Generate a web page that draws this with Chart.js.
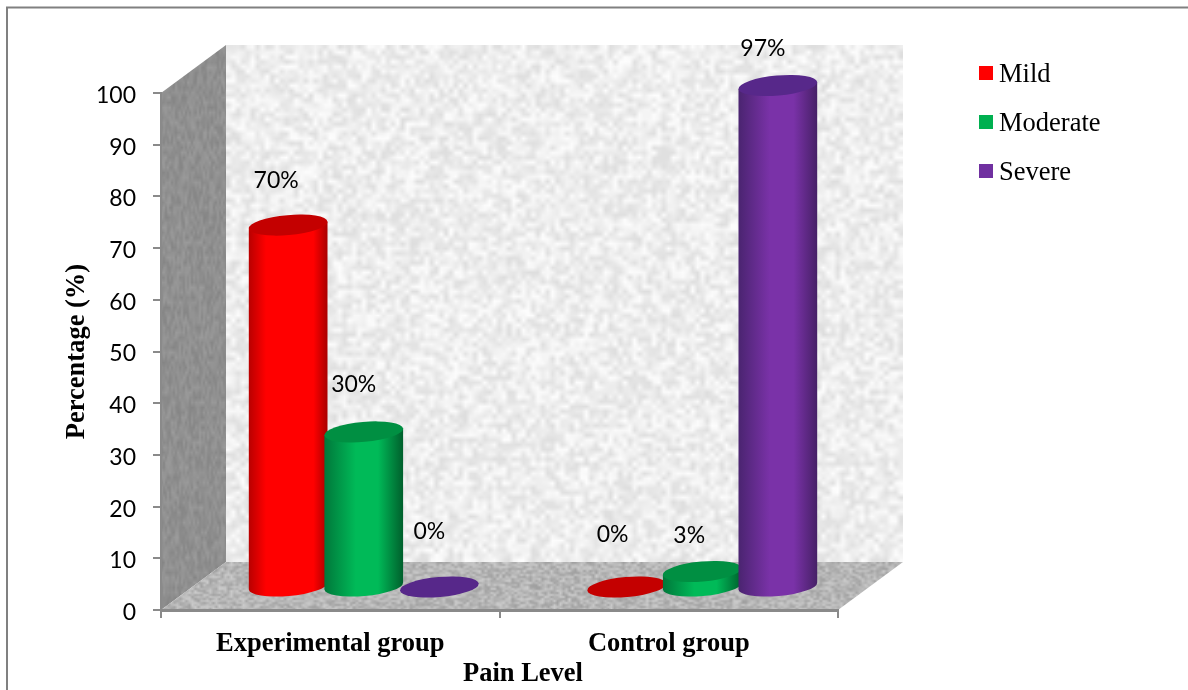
<!DOCTYPE html>
<html>
<head>
<meta charset="utf-8">
<title>Pain Level</title>
<script src="https://cdn.jsdelivr.net/npm/chart.js@4/dist/chart.umd.js"></script>
<style>
  html, body { margin: 0; padding: 0; background: #fff; }
  canvas { display: block; }
</style>
</head>
<body>
<canvas id="painChart" width="1188" height="690"></canvas>
<script>
const categories = ['Experimental group', 'Control group'];
const seriesNames = ['Mild', 'Moderate', 'Severe'];
const mildValues = [70, 0];
const moderateValues = [30, 3];
const severeValues = [0, 97];
const yTickStep = 10;
const yMax = 100;

// body colours: edge, highlight, edge, cap colour, then where the highlight starts and ends
const shades = {
  Mild: ['#b80000', '#ff0000', '#ff0000', '#a80000', '#c40000', 0.22, 0.82],
  Moderate: ['#00773a', '#00ba58', '#00ba58', '#005f2c', '#008f42', 0.4, 0.68],
  Severe: ['#4a2470', '#7a32a8', '#7a32a8', '#462066', '#57288a', 0.4, 0.7]
};
const legendColors = ['#ff0000', '#00b050', '#7030a0'];

// hand placed label nudges (the source chart had them dragged around)
const labelNudge = {
  Mild: [[-12, -45], [-14, -52]],
  Moderate: [[-10, -47], [-13, -36]],
  Severe: [[-10, -55], [-15, -37]]
};

const depthX = 65, depthY = 48;
const barShiftX = 33.5, barShiftY = 23;
const tilt = -5 * Math.PI / 180;

// speckle texture for the walls, fixed seed so it looks the same every run
function speckle(w, h, cellX, cellY, base, amp, seed) {
  let s = seed;
  const next = () => {
    s = (s * 1664525 + 1013904223) % 4294967296;
    return s / 4294967296;
  };
  const sw = Math.ceil(w / cellX), sh = Math.ceil(h / cellY);
  const small = document.createElement('canvas');
  small.width = sw; small.height = sh;
  const sctx = small.getContext('2d');
  const img = sctx.createImageData(sw, sh);
  for (let i = 0; i < sw * sh; i++) {
    const v = Math.min(255, base + (next() - 0.5) * 2 * amp);
    img.data[i * 4] = img.data[i * 4 + 1] = img.data[i * 4 + 2] = v;
    img.data[i * 4 + 3] = 255;
  }
  sctx.putImageData(img, 0, 0);
  const big = document.createElement('canvas');
  big.width = w; big.height = h;
  const bctx = big.getContext('2d');
  bctx.imageSmoothingEnabled = true;
  bctx.drawImage(small, 0, 0, w, h);
  return big;
}

const backTex = speckle(700, 540, 5, 5, 238, 16, 11);
const sideTex = speckle(80, 580, 2, 5, 144, 11, 23);
const floorTex = speckle(760, 60, 3, 2, 182, 22, 37);

function fillPoly(ctx, pts, tex, ox, oy) {
  ctx.save();
  ctx.beginPath();
  pts.forEach((p, i) => i ? ctx.lineTo(p[0], p[1]) : ctx.moveTo(p[0], p[1]));
  ctx.closePath();
  ctx.clip();
  ctx.drawImage(tex, ox, oy);
  ctx.restore();
}

function drawCylinder(ctx, cx, topY, baseY, rx, name) {
  const ry = 10;
  const c = shades[name];
  const dx = rx * Math.cos(tilt), dy = rx * Math.sin(tilt);
  if (baseY - topY < 0.5) {
    ctx.fillStyle = c[4];
    ctx.beginPath();
    ctx.ellipse(cx, baseY, rx, ry, tilt, 0, Math.PI * 2);
    ctx.fill();
    return;
  }
  const g = ctx.createLinearGradient(cx - rx, 0, cx + rx, 0);
  g.addColorStop(0, c[0]);
  g.addColorStop(c[5], c[1]);
  g.addColorStop(c[6], c[2]);
  g.addColorStop(1, c[3]);
  ctx.fillStyle = g;
  ctx.beginPath();
  ctx.moveTo(cx - dx, topY - dy);
  ctx.lineTo(cx - dx, baseY - dy);
  ctx.ellipse(cx, baseY, rx, ry, tilt, Math.PI, 0, true);
  ctx.lineTo(cx + dx, topY + dy);
  ctx.closePath();
  ctx.fill();
  ctx.fillStyle = c[4];
  ctx.beginPath();
  ctx.ellipse(cx, topY, rx, ry, tilt, 0, Math.PI * 2);
  ctx.fill();
}

const box3d = {
  id: 'box3d',
  beforeDraw(chart) {
    const { ctx, chartArea: a } = chart;
    // outer frame
    ctx.save();
    ctx.strokeStyle = '#808080';
    ctx.lineWidth = 2;
    ctx.beginPath();
    ctx.moveTo(7, 690);
    ctx.lineTo(7, 7.5);
    ctx.lineTo(1188, 7.5);
    ctx.stroke();
    ctx.restore();
    const bx = a.left + depthX, by = a.top - depthY, fy = a.bottom - depthY;
    ctx.drawImage(backTex, bx, by, a.right - a.left, a.bottom - a.top);
    fillPoly(ctx, [[a.left, a.top], [bx, by], [bx, fy], [a.left, a.bottom]], sideTex, a.left, by);
    fillPoly(ctx, [[a.left, a.bottom], [bx, fy], [a.right + depthX, fy], [a.right, a.bottom]], floorTex, a.left, fy);

    // Lato sits high on its middle baseline, push the y labels down a bit
    const yScale = chart.scales.y;
    if (!yScale.shifted) {
      const orig = yScale.drawLabels;
      yScale.drawLabels = function (area) {
        ctx.save();
        ctx.translate(0, 2.5);
        orig.call(this, area);
        ctx.restore();
      };
      yScale.shifted = true;
    }
  },
  // cylinders are drawn together below so later series sit on top
  beforeDatasetDraw() {
    return false;
  },
  afterDatasetsDraw(chart) {
    const { ctx } = chart;
    chart.data.datasets.forEach((ds, i) => {
      chart.getDatasetMeta(i).data.forEach(bar => {
        drawCylinder(ctx, bar.x + barShiftX, bar.y - barShiftY, bar.base - barShiftY, bar.width / 2, ds.label);
      });
    });
    ctx.save();
    ctx.fillStyle = '#000';
    ctx.font = '23px Lato';
    ctx.textAlign = 'center';
    ctx.textBaseline = 'middle';
    chart.data.datasets.forEach((ds, i) => {
      chart.getDatasetMeta(i).data.forEach((bar, j) => {
        const n = labelNudge[ds.label][j];
        ctx.fillText(ds.data[j] + '%', bar.x + barShiftX + n[0], bar.y - barShiftY + n[1]);
      });
    });
    // legend
    ctx.font = '26.5px "Liberation Serif"';
    ctx.textAlign = 'left';
    seriesNames.forEach((name, i) => {
      const y = 73 + i * 49;
      ctx.fillStyle = legendColors[i];
      ctx.fillRect(979, y - 7, 14, 14);
      ctx.fillStyle = '#000';
      ctx.fillText(name, 999, y + 2);
    });
    // x title sits right of the axis centre in the source
    ctx.font = 'bold 26.5px "Liberation Serif"';
    ctx.textAlign = 'center';
    ctx.fillText('Pain Level', 523, 674);
    ctx.restore();
  }
};

new Chart(document.getElementById('painChart').getContext('2d'), {
  type: 'bar',
  data: {
    labels: categories,
    datasets: [
      { label: seriesNames[0], data: mildValues, backgroundColor: legendColors[0] },
      { label: seriesNames[1], data: moderateValues, backgroundColor: legendColors[1] },
      { label: seriesNames[2], data: severeValues, backgroundColor: legendColors[2] }
    ]
  },
  options: {
    responsive: false,
    animation: false,
    events: [],
    categoryPercentage: 0.67,
    barPercentage: 1.045,
    layout: { padding: { left: 0, top: 93, right: 350, bottom: 0 } },
    plugins: { legend: { display: false }, tooltip: { enabled: false } },
    scales: {
      x: {
        afterFit(scale) { scale.height = 80; },
        border: { color: '#8a8a8a', width: 3 },
        grid: { drawOnChartArea: false, color: '#8a8a8a', lineWidth: 2, tickLength: 8 },
        ticks: { color: '#000', padding: 10, maxRotation: 0, font: { family: 'Liberation Serif', size: 26.5, weight: 'bold' } }
      },
      y: {
        min: 0,
        max: yMax,
        afterFit(scale) { scale.width = 161; },
        border: { color: '#8a8a8a', width: 2 },
        grid: { drawOnChartArea: false, color: '#8a8a8a', lineWidth: 2, tickLength: 8 },
        ticks: { stepSize: yTickStep, color: '#000', padding: 17, font: { family: 'Lato', size: 23 } },
        title: {
          display: true,
          text: 'Percentage (%)',
          color: '#000',
          padding: { top: 61, bottom: 0 },
          font: { family: 'Liberation Serif', size: 26.5, weight: 'bold' }
        }
      }
    }
  },
  plugins: [box3d]
});
</script>
</body>
</html>
